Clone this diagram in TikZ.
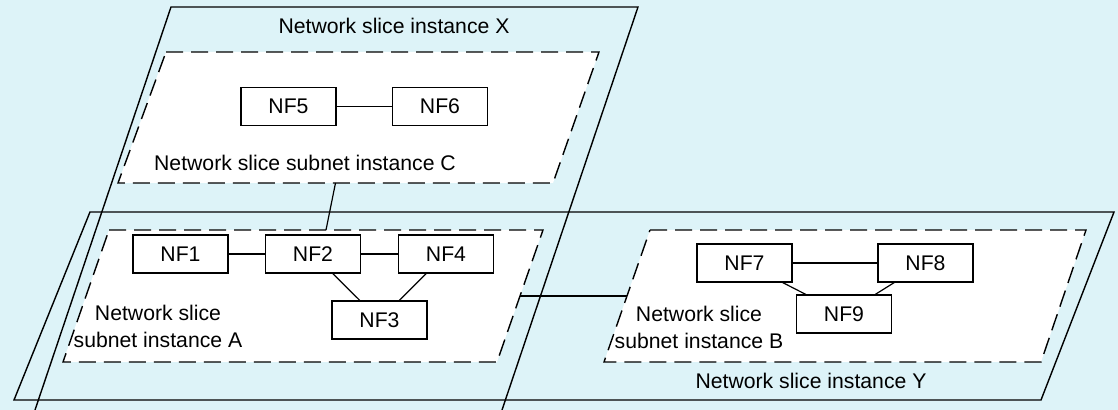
\documentclass[tikz,border=0pt]{standalone}
\usepackage{fontspec}
\setmainfont{Liberation Sans}
\usetikzlibrary{calc}

\definecolor{bgblue}{RGB}{221,243,248}

\tikzset{
  nfbox/.style={draw, line width=0.6pt, fill=white, minimum width=47.5pt,
    minimum height=19pt, inner sep=0pt, font=\fontsize{10.6}{12.7}\selectfont},
  subnet/.style={draw, line width=0.7pt, dash pattern=on 8.5pt off 4pt, fill=white},
  slice/.style={draw, line width=0.7pt},
  lbl/.style={font=\fontsize{10.6}{13.5}\selectfont, align=center, inner sep=0pt},
  link/.style={line width=0.6pt}
}

\begin{document}
\begin{tikzpicture}[x=0.5pt, y=-0.5pt]
\useasboundingbox (0,0) rectangle (1118,410);
\fill[bgblue] (0,0) rectangle (1118,410);

% network slice instances
\draw[slice] (35,410) -- (171,7) -- (638,7) -- (502,410);
\draw[slice] (90,212) -- (1114,212) -- (1041,400) -- (14,400) -- cycle;

% network slice subnet instances
\draw[subnet] (166,52) -- (599,52) -- (553,183) -- (118,183) -- cycle;
\draw[subnet] (109,230) -- (543,230) -- (497,362) -- (63,362) -- cycle;
\draw[subnet] (650,230) -- (1086,230) -- (1041,362) -- (604,362) -- cycle;

\coordinate (Cs) at (335.5,183);
\coordinate (An) at (326,230);
\coordinate (Ae) at (520,296);
\coordinate (Bw) at (627,296);

\node[lbl] (lblX) at (394,26) {Network slice instance X};
\node[lbl] (lblY) at (811,381) {Network slice instance Y};
\node[lbl] (lblC) at (305,163) {Network slice subnet instance C};
\node[lbl] (lblA) at (158,326) {Network slice\\subnet instance A};
\node[lbl] (lblB) at (699,327) {Network slice\\subnet instance B};

% network functions
\node[nfbox] (nf5) at (288.5,106.5) {NF5};
\node[nfbox] (nf6) at (440,106.5) {NF6};
\node[nfbox] (nf1) at (180.5,254) {NF1};
\node[nfbox] (nf2) at (313,254) {NF2};
\node[nfbox] (nf4) at (446,254) {NF4};
\node[nfbox] (nf3) at (379.5,320) {NF3};
\node[nfbox] (nf7) at (744.5,263) {NF7};
\node[nfbox] (nf8) at (925.5,263) {NF8};
\node[nfbox] (nf9) at (844,314) {NF9};

\draw[link] (nf5) -- (nf6);
\draw[link] (nf1) -- (nf2);
\draw[link] (nf2) -- (nf4);
\draw[link] (nf2) -- (nf3);
\draw[link] (nf4) -- (nf3);
\draw[link] (nf7) -- (nf8);
\draw[link] (nf7) -- (nf9);
\draw[link] (nf8) -- (nf9);

\draw[link] (Cs) -- (An);
\draw[link] (Ae) -- (Bw);
\end{tikzpicture}
\end{document}
